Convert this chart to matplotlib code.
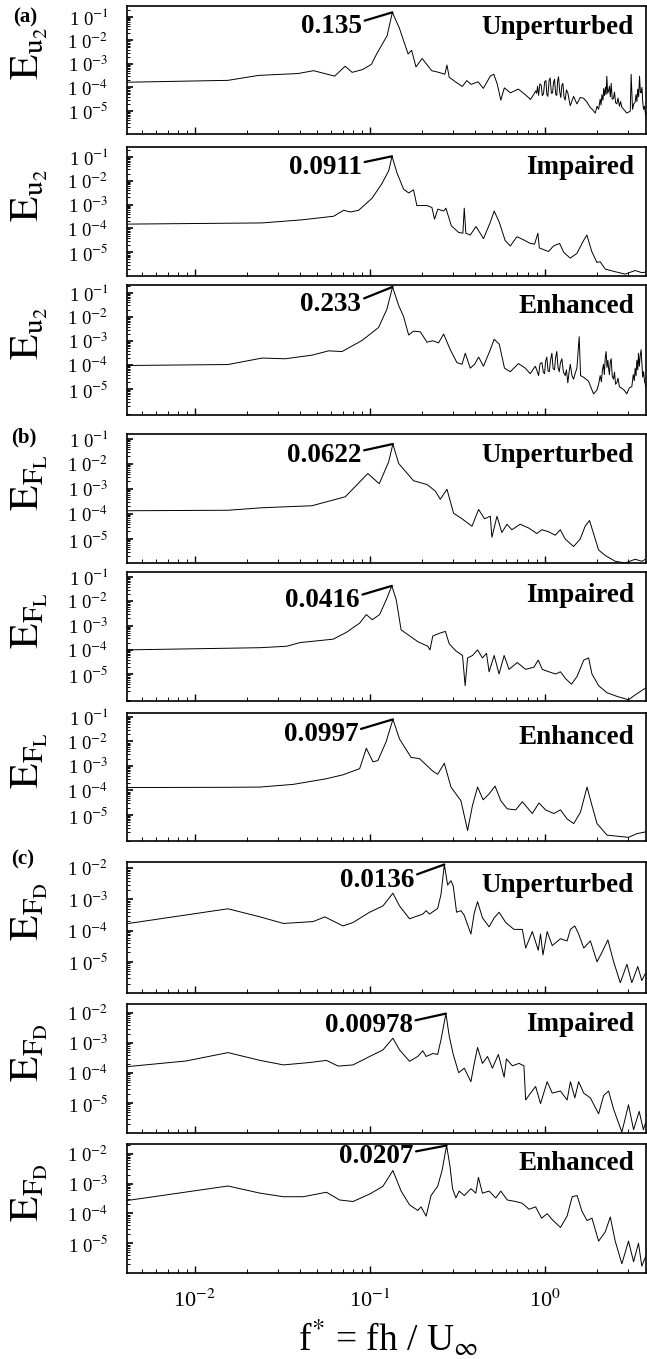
import numpy as np
import matplotlib.pyplot as plt
from matplotlib.ticker import LogLocator, NullFormatter, FixedLocator

plt.rcParams['font.family'] = ['Liberation Serif', 'DejaVu Serif']
plt.rcParams['mathtext.fontset'] = 'stix'

# spectra, stored as log10(f*) and log10(E)
u2_unp_lf = [-2.39, -1.81, -1.635, -1.41, -1.32, -1.20, -1.14, -1.10, -1.04, -0.99, -0.96, -0.90, -0.87, -0.83,
             -0.78, -0.76, -0.735, -0.70, -0.645, -0.605, -0.57, -0.558, -0.545, -0.51, -0.47, -0.445, -0.42,
             -0.38, -0.35, -0.31, -0.29, -0.27, -0.25, -0.23, -0.195, -0.15, -0.11, -0.08, -0.05,
             -0.045, -0.040, -0.034, -0.027, -0.019, -0.013, -0.006, 0.001, 0.008, 0.013, 0.019, 0.026, 0.032,
             0.039, 0.046, 0.051, 0.057, 0.064, 0.070, 0.075, 0.080, 0.087, 0.093, 0.099, 0.105, 0.111, 0.118,
             0.125, 0.133,
             0.147, 0.166, 0.185, 0.204, 0.223, 0.242, 0.261, 0.275,
             0.29, 0.30, 0.309, 0.318, 0.323, 0.328, 0.334, 0.338, 0.343, 0.348, 0.352, 0.356, 0.361, 0.366,
             0.371, 0.376, 0.381, 0.387, 0.394, 0.400, 0.406, 0.413, 0.420, 0.428, 0.435, 0.442, 0.455, 0.47,
             0.49, 0.495, 0.503, 0.510, 0.518, 0.523, 0.528, 0.533, 0.538, 0.543, 0.548, 0.552, 0.557, 0.561,
             0.566, 0.572, 0.578, 0.585, 0.596]
u2_unp_le = [-3.78, -3.70, -3.49, -3.41, -3.29, -3.52, -3.10, -3.36, -3.24, -3.02, -2.58, -1.80, -0.81, -1.48,
             -2.58, -2.42, -3.13, -2.77, -3.29, -3.36, -3.44, -3.05, -3.57, -3.76, -3.96, -3.71, -3.87,
             -3.76, -4.04, -3.52, -3.44, -3.87, -4.54, -4.02, -4.23, -4.07, -4.31, -4.51, -4.15,
             -4.25, -3.95, -4.34, -3.85, -3.91, -4.35, -4.27, -3.75, -3.71, -4.30, -4.38, -3.70, -3.60,
             -4.25, -4.23, -3.80, -3.65, -4.30, -4.34, -3.70, -3.55, -4.20, -4.43, -3.90, -3.83, -4.40, -4.54,
             -4.10, -4.23,
             -4.78, -4.38, -4.70, -4.43, -4.46, -4.62, -4.85, -4.95,
             -5.09, -4.80, -4.93, -4.50, -4.75, -4.31, -4.55, -4.05, -4.35, -3.99, -4.30, -3.52, -4.25, -4.15,
             -3.95, -4.40, -3.83, -4.50, -4.46, -4.20, -4.65, -4.70, -4.45, -4.80, -4.60, -4.85, -4.95, -5.09,
             -5.01, -3.44, -4.93, -4.70, -4.62, -4.30, -4.60, -4.07, -4.40, -3.52, -4.20, -4.23, -4.00, -4.60,
             -4.93, -4.80, -5.20, -5.40, -5.64]

u2_imp_lf = [-2.39, -1.615, -1.387, -1.206, -1.149, -1.110, -1.063, -0.987, -0.930, -0.891, -0.872, -0.844,
             -0.806, -0.777, -0.749, -0.730, -0.672, -0.644, -0.629, -0.610, -0.577, -0.564, -0.533, -0.491,
             -0.467, -0.459, -0.450, -0.425, -0.392, -0.349, -0.310, -0.288, -0.259, -0.225, -0.196, -0.158,
             -0.120, -0.082, -0.057, -0.038, -0.030, -0.006, 0.023, 0.051, 0.086, 0.109, 0.147, 0.185, 0.223,
             0.242, 0.270, 0.299, 0.318, 0.347, 0.404, 0.461, 0.518, 0.556, 0.596]
u2_imp_le = [-3.82, -3.77, -3.64, -3.49, -3.24, -3.31, -3.24, -2.74, -2.12, -1.58, -0.97, -1.66, -2.35, -2.51,
             -2.38, -3.04, -3.04, -3.12, -3.61, -3.19, -3.27, -3.15, -3.89, -4.17, -4.20, -3.15, -4.20, -4.28,
             -3.92, -4.43, -3.74, -3.27, -3.74, -4.51, -4.74, -4.35, -4.48, -4.63, -4.66, -4.20, -4.82, -4.89,
             -4.97, -4.74, -4.63, -5.00, -5.25, -5.05, -4.51, -4.28, -4.97, -5.43, -5.40, -5.71, -5.82, -5.92,
             -5.77, -5.86, -5.82]

u2_enh_lf = [-2.39, -1.81, -1.615, -1.482, -1.330, -1.234, -1.158, -1.044, -0.949, -0.901, -0.869, -0.834,
             -0.806, -0.777, -0.749, -0.710, -0.672, -0.640, -0.606, -0.577, -0.539, -0.501, -0.472, -0.453,
             -0.425, -0.400, -0.377, -0.349, -0.310, -0.288, -0.259, -0.229, -0.196, -0.149, -0.110, -0.082,
             -0.053,
             -0.045, -0.034, -0.026, -0.015, -0.007, 0.000, 0.006, 0.013, 0.020, 0.027, 0.034, 0.042, 0.049,
             0.057, 0.063, 0.070, 0.077, 0.084, 0.091, 0.099, 0.108, 0.118, 0.125, 0.133, 0.140, 0.147, 0.157,
             0.166, 0.175, 0.185,
             0.198, 0.206, 0.223, 0.251, 0.280, 0.299,
             0.309, 0.318, 0.325, 0.331, 0.337, 0.342, 0.347, 0.352, 0.357, 0.362, 0.366, 0.371, 0.376, 0.381,
             0.387, 0.394, 0.400, 0.406, 0.413, 0.420, 0.428, 0.442,
             0.456, 0.470, 0.485,
             0.499, 0.507, 0.513, 0.518, 0.523, 0.528, 0.533, 0.537, 0.542, 0.547, 0.552, 0.557, 0.561, 0.566,
             0.572, 0.578, 0.585, 0.596]
u2_enh_le = [-4.02, -3.98, -3.71, -3.74, -3.59, -3.41, -3.44, -2.98, -2.44, -1.67, -0.75, -1.52, -1.98, -2.75,
             -2.59, -2.62, -3.05, -2.99, -3.08, -2.71, -3.36, -3.90, -3.97, -3.51, -4.13, -3.97, -3.67, -4.05,
             -3.36, -2.93, -3.13, -4.13, -4.28, -3.94, -4.13, -4.36, -4.05,
             -4.20, -4.44, -3.95, -3.90, -4.30, -4.36, -3.85, -3.67, -4.25, -4.28, -3.80, -3.51, -4.15,
             -4.20, -3.70, -3.44, -4.10, -4.28, -3.90, -3.74, -4.30, -4.44, -4.20, -4.74, -4.30, -3.97, -4.45,
             -4.59, -4.35, -4.13,
             -2.82, -4.44, -4.51, -4.67, -5.20, -5.05,
             -4.80, -4.44, -4.70, -4.20, -3.97, -4.40, -3.70, -3.44, -4.10, -3.80, -4.13, -4.40, -3.85, -3.74,
             -4.45, -4.59, -4.30, -4.80, -4.74, -4.55, -4.90, -4.97,
             -5.05, -5.20, -4.95,
             -4.90, -4.40, -4.65, -4.13, -4.45, -3.80, -4.20, -3.51, -4.05, -3.60, -3.36, -4.00, -4.50, -4.28,
             -4.70, -4.85, -5.05, -5.13]

fl_unp_lf = [-2.39, -1.81, -1.615, -1.330, -1.139, -1.010, -0.945, -0.891, -0.867, -0.834, -0.749, -0.672,
             -0.625, -0.596, -0.558, -0.520, -0.472, -0.415, -0.377, -0.343, -0.310, -0.301, -0.272, -0.244,
             -0.215, -0.187, -0.139, -0.091, -0.044, -0.015, 0.023, 0.061, 0.090, 0.118, 0.166, 0.204, 0.232,
             0.257, 0.280, 0.309, 0.347, 0.404, 0.461, 0.518, 0.556, 0.596]
fl_unp_le = [-3.87, -3.85, -3.75, -3.67, -3.31, -2.38, -2.79, -1.91, -1.20, -1.98, -2.67, -2.82, -3.08, -3.41,
             -3.01, -3.97, -4.19, -4.49, -3.82, -4.19, -4.09, -4.93, -4.09, -4.74, -4.41, -4.63, -4.41, -4.56,
             -4.78, -4.63, -4.71, -4.85, -4.63, -5.00, -5.30, -5.00, -4.49, -4.26, -4.78, -5.44, -5.66, -5.89,
             -5.96, -5.81, -5.89, -5.74]

fl_imp_lf = [-2.39, -1.626, -1.474, -1.398, -1.209, -1.133, -1.057, -1.019, -0.985, -0.943, -0.905, -0.873,
             -0.848, -0.820, -0.782, -0.725, -0.668, -0.655, -0.639, -0.602, -0.567, -0.545, -0.507, -0.469,
             -0.454, -0.440, -0.412, -0.383, -0.355, -0.332, -0.317, -0.288, -0.260, -0.231, -0.203, -0.156,
             -0.108, -0.061, -0.036, -0.013, 0.025, 0.063, 0.091, 0.120, 0.154, 0.186, 0.224, 0.252, 0.271,
             0.309, 0.357, 0.414, 0.480, 0.518, 0.577]
fl_imp_le = [-4.00, -3.91, -3.85, -3.70, -3.56, -3.28, -2.90, -2.55, -2.76, -2.55, -1.94, -1.37, -1.94, -3.18,
             -3.37, -3.66, -3.85, -4.00, -3.43, -3.32, -3.24, -3.75, -4.04, -4.23, -5.47, -4.33, -4.23, -4.00,
             -4.33, -4.14, -4.90, -4.23, -4.99, -4.23, -4.80, -4.52, -4.80, -4.71, -4.42, -4.80, -4.90, -4.99,
             -4.90, -5.18, -5.41, -5.09, -4.42, -4.33, -4.99, -5.47, -5.76, -5.91, -6.05, -5.85, -5.57]

fl_enh_lf = [-2.39, -1.80, -1.626, -1.436, -1.247, -1.152, -1.057, -1.019, -0.981, -0.953, -0.905, -0.867,
             -0.829, -0.763, -0.715, -0.639, -0.611, -0.573, -0.535, -0.478, -0.440, -0.412, -0.383, -0.351,
             -0.317, -0.283, -0.250, -0.213, -0.165, -0.127, -0.070, -0.032, 0.006, 0.053, 0.091, 0.129, 0.167,
             0.205, 0.243, 0.271, 0.300, 0.357, 0.423, 0.480, 0.528, 0.577]
fl_enh_le = [-3.88, -3.87, -3.86, -3.75, -3.52, -3.36, -3.11, -2.28, -2.83, -2.78, -2.00, -1.10, -1.90, -2.65,
             -2.70, -3.21, -3.34, -2.89, -3.86, -4.42, -5.63, -4.61, -3.86, -4.38, -4.14, -3.82, -4.42, -4.75,
             -4.79, -4.46, -4.94, -4.51, -4.79, -4.94, -4.79, -5.16, -5.35, -4.89, -3.86, -4.61, -5.35, -5.82,
             -5.87, -5.91, -5.76, -5.69]

fd_unp_lf = [-2.39, -1.81, -1.626, -1.493, -1.323, -1.256, -1.152, -1.095, -1.000, -0.924, -0.867, -0.829,
             -0.772, -0.696, -0.677, -0.658, -0.611, -0.592, -0.573, -0.554, -0.535, -0.522, -0.503, -0.478,
             -0.459, -0.421, -0.402, -0.383, -0.355, -0.317, -0.288, -0.260, -0.222, -0.175, -0.127, -0.108,
             -0.070, -0.036, -0.023, -0.009, 0.015, 0.044, 0.091, 0.129, 0.148, 0.173, 0.195, 0.224, 0.262,
             0.300, 0.328, 0.362, 0.395, 0.433, 0.471, 0.499, 0.533, 0.556, 0.577]
fd_unp_le = [-3.78, -3.30, -3.56, -3.77, -3.71, -3.56, -3.85, -3.74, -3.41, -3.21, -2.80, -3.21, -3.62, -3.47,
             -3.36, -3.47, -3.29, -2.84, -1.88, -2.54, -2.40, -2.57, -3.41, -3.36, -3.51, -4.11, -3.44, -3.07,
             -3.59, -3.88, -3.59, -3.41, -3.74, -3.96, -3.96, -4.56, -4.03, -4.63, -4.11, -4.78, -4.03, -4.48,
             -4.26, -4.33, -3.96, -3.85, -4.11, -4.56, -4.33, -5.00, -4.70, -4.30, -5.00, -5.67, -5.08, -5.67,
             -5.15, -5.60, -5.37]

fd_imp_lf = [-2.39, -2.05, -1.81, -1.626, -1.493, -1.342, -1.247, -1.180, -1.095, -1.000, -0.924, -0.867,
             -0.829, -0.772, -0.725, -0.696, -0.677, -0.639, -0.611, -0.592, -0.564, -0.545, -0.522, -0.491,
             -0.459, -0.421, -0.402, -0.383, -0.355, -0.326, -0.298, -0.264, -0.231, -0.218, -0.184, -0.146,
             -0.118, -0.108, -0.080, -0.051, -0.023, 0.015, 0.044, 0.091, 0.129, 0.148, 0.173, 0.195, 0.224,
             0.262, 0.309, 0.338, 0.366, 0.395, 0.442, 0.480, 0.509, 0.541, 0.565, 0.577]
fd_imp_le = [-3.79, -3.60, -3.32, -3.58, -3.73, -3.65, -3.58, -3.77, -3.73, -3.45, -3.23, -2.84, -3.23, -3.61,
             -3.45, -3.26, -3.45, -3.35, -3.38, -2.89, -2.02, -2.77, -3.38, -3.99, -3.84, -4.29, -3.68, -3.15,
             -3.68, -3.45, -3.84, -3.38, -4.14, -3.53, -3.76, -3.68, -3.76, -4.90, -4.67, -4.45, -5.02, -4.29,
             -4.67, -4.60, -4.90, -4.29, -4.83, -4.29, -4.67, -4.83, -5.36, -4.75, -4.60, -5.21, -5.97, -5.06,
             -5.89, -5.28, -5.89, -5.67]

fd_enh_lf = [-2.39, -1.81, -1.626, -1.493, -1.380, -1.247, -1.171, -1.095, -1.000, -0.924, -0.867, -0.820,
             -0.772, -0.725, -0.706, -0.677, -0.649, -0.611, -0.586, -0.560, -0.541, -0.526, -0.507, -0.488,
             -0.459, -0.421, -0.393, -0.378, -0.355, -0.317, -0.279, -0.250, -0.213, -0.165, -0.127, -0.089,
             -0.051, -0.017, 0.015, 0.044, 0.091, 0.129, 0.158, 0.186, 0.214, 0.243, 0.271, 0.309, 0.347,
             0.376, 0.404, 0.442, 0.480, 0.509, 0.537, 0.556, 0.577]
fd_enh_le = [-3.57, -3.08, -3.32, -3.44, -3.44, -3.29, -3.55, -3.60, -3.35, -3.09, -2.56, -3.25, -3.71, -3.90,
             -3.78, -4.09, -3.40, -3.09, -2.56, -1.72, -2.40, -3.17, -3.48, -3.25, -3.40, -3.17, -3.32, -2.79,
             -3.32, -3.25, -3.48, -3.25, -3.55, -3.60, -3.66, -3.86, -3.78, -4.16, -4.01, -4.21, -4.47, -4.09,
             -3.44, -3.40, -3.93, -4.24, -4.16, -4.93, -4.62, -4.12, -4.93, -5.69, -4.93, -5.62, -5.00, -5.77,
             -5.46]

cases = ['Unperturbed', 'Impaired', 'Enhanced']
peak_texts = ['0.135', '0.0911', '0.233', '0.0622', '0.0416', '0.0997', '0.0136', '0.00978', '0.0207']
ylabels = [r'$\mathrm{E}_{\mathrm{u}_2}$', r'$\mathrm{E}_{\mathrm{F}_\mathrm{L}}$', r'$\mathrm{E}_{\mathrm{F}_\mathrm{D}}$']
group_tags = ['(a)', '(b)', '(c)']

series = [(u2_unp_lf, u2_unp_le), (u2_imp_lf, u2_imp_le), (u2_enh_lf, u2_enh_le),
          (fl_unp_lf, fl_unp_le), (fl_imp_lf, fl_imp_le), (fl_enh_lf, fl_enh_le),
          (fd_unp_lf, fd_unp_le), (fd_imp_lf, fd_imp_le), (fd_enh_lf, fd_enh_le)]

# layout (pixels in a 647x1359 figure)
W, H = 647, 1359
ax_left, ax_right = 126.5, 646
rows_px = [(6, 134), (147, 276), (285, 415), (434, 563), (572, 701), (713, 841),
           (862, 993), (1004, 1133), (1144, 1273)]
ylims = [(-5.98, -0.54), (-6.0, -0.58), (-6.08, -0.67), (-5.96, -0.8), (-6.1, -0.8), (-6.06, -0.84),
         (-6.0, -1.8), (-6.0, -1.7), (-6.0, -1.67)]
xlim = (10 ** -2.39, 10 ** 0.58)
num_pos = [(0.453, 0.84), (0.453, 0.84), (0.452, 0.85), (0.452, 0.83), (0.449, 0.78), (0.446, 0.83),
           (0.554, 0.86), (0.551, 0.83), (0.552, 0.90)]
case_y = [0.83, 0.84, 0.835, 0.83, 0.82, 0.81, 0.82, 0.84, 0.85]
tag_px = [(25, 17), (24, 437), (23, 859)]

fig = plt.figure(figsize=(W / 100, H / 100), dpi=100)

for i, (lf, le) in enumerate(series):
    top, bot = rows_px[i]
    ax = fig.add_axes([ax_left / W, 1 - bot / H, (ax_right - ax_left) / W, (bot - top) / H])
    f = 10 ** np.array(lf)
    E = 10 ** np.array(le)
    ax.plot(f, E, color='k', lw=0.7)
    ax.set_xscale('log')
    ax.set_yscale('log')
    ax.set_xlim(xlim)
    ax.set_ylim(10 ** ylims[i][0], 10 ** ylims[i][1])

    g = i // 3
    exps = [-1, -2, -3, -4, -5] if g < 2 else [-2, -3, -4, -5]
    ax.yaxis.set_major_locator(FixedLocator([10.0 ** k for k in exps]))
    ax.set_yticklabels(['1 0$^{%d}$' % k for k in exps], fontsize=13.5)
    ax.yaxis.set_minor_locator(LogLocator(base=10, subs=np.arange(2, 10), numticks=20))
    ax.yaxis.set_minor_formatter(NullFormatter())
    ax.xaxis.set_major_locator(FixedLocator([1e-2, 1e-1, 1e0]))
    ax.xaxis.set_minor_locator(LogLocator(base=10, subs=np.arange(2, 10), numticks=20))
    ax.xaxis.set_minor_formatter(NullFormatter())
    ax.tick_params(which='both', direction='in', top=False, right=False)
    ax.tick_params(axis='y', which='major', length=4, width=1.2, pad=13)
    ax.tick_params(axis='y', which='minor', length=2, width=0.7)
    ax.tick_params(axis='x', which='major', length=5, width=1.0, pad=12)
    ax.tick_params(axis='x', which='minor', length=3, width=0.7)
    for sp in ax.spines.values():
        sp.set_linewidth(1.2)

    if i == len(series) - 1:
        ax.set_xticklabels(['10$^{-2}$', '10$^{-1}$', '10$^{0}$'], fontsize=16)
    else:
        ax.tick_params(axis='x', labelbottom=False)

    k = int(np.argmax(le))
    ax.annotate(peak_texts[i], xy=(f[k], E[k]), xycoords='data',
                xytext=num_pos[i], textcoords='axes fraction', ha='right', va='center',
                fontsize=19.5, fontweight='bold',
                arrowprops=dict(arrowstyle='-', lw=1.6, color='k', shrinkA=0, shrinkB=0, relpos=(1.0, 0.7)))
    ax.text(0.977, case_y[i], cases[i % 3], transform=ax.transAxes, ha='right', va='center',
            fontsize=19.5, fontweight='bold')

    fig.text(30 / W, 1 - ((top + bot) / 2 - 16) / H, ylabels[g], rotation=90,
             ha='center', va='center', fontsize=30)

for g, (tx, ty) in enumerate(tag_px):
    fig.text(tx / W, 1 - ty / H, group_tags[g], ha='center', va='center', fontsize=15, fontweight='bold')

fig.text(388 / W, 1 - 1338 / H, r'f$^{*}$ = fh / U$_{\infty}$', ha='center', va='center', fontsize=27)

fig.savefig('out.png', dpi=100)
